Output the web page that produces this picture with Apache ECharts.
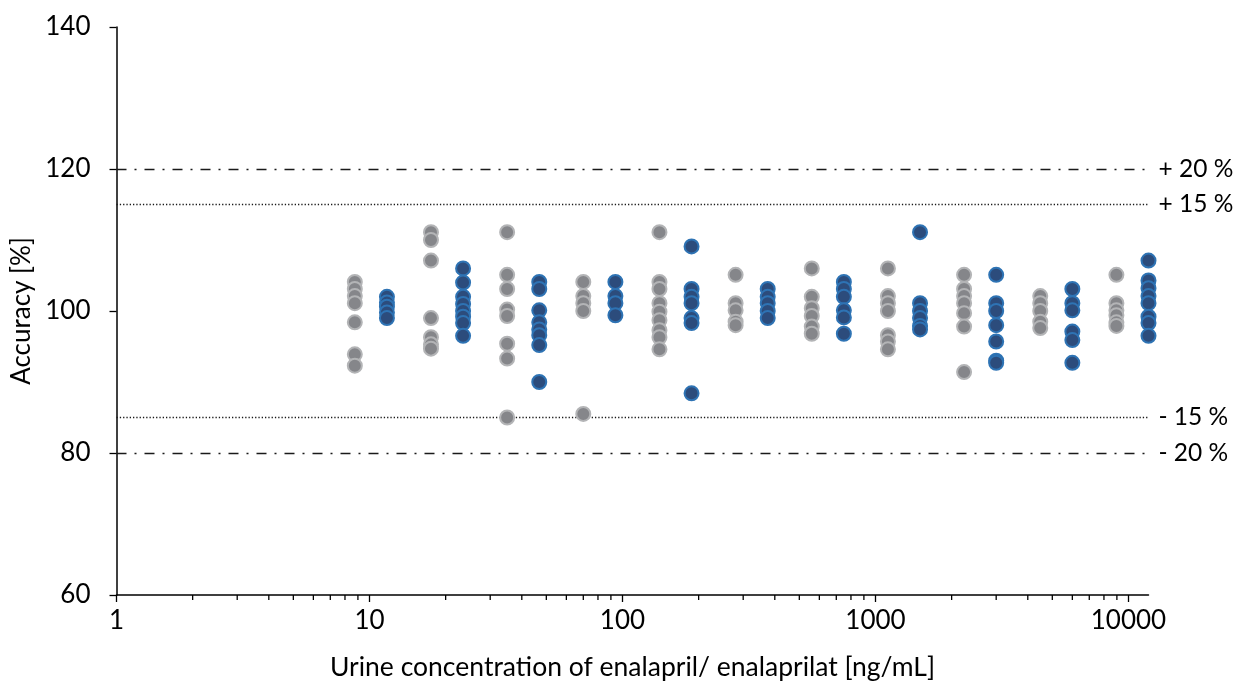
<!DOCTYPE html>
<html>
<head>
<meta charset="utf-8">
<script src="https://cdn.jsdelivr.net/npm/echarts@6/dist/echarts.min.js"></script>
<style>html,body{margin:0;padding:0;background:#fff}#chart{width:1237px;height:687px}</style>
</head>
<body>
<div id="chart"></div>
<script>
// Concentrations (ng/mL)
const enalaprilConc = [8.75, 17.5, 35, 70, 140, 280, 560, 1120, 2240, 4480, 8960];
const enalaprilatConc = [11.72, 23.44, 46.88, 93.75, 187.5, 375, 750, 1500, 3000, 6000, 12000];

// Accuracy values [%] per concentration level
const enalaprilAcc = [
  [104.1, 103.1, 102.1, 101.1, 98.4, 93.9, 92.3],
  [111.1, 110.0, 107.1, 99.0, 96.3, 95.3, 94.7],
  [111.1, 105.1, 103.1, 100.2, 99.3, 95.4, 93.3, 85.0],
  [104.1, 102.1, 101.1, 100.0, 85.5],
  [111.1, 104.1, 103.1, 101.1, 99.9, 98.7, 97.3, 96.3, 94.6],
  [105.1, 101.1, 100.1, 98.5, 98.0],
  [106.0, 102.0, 100.4, 99.3, 97.8, 96.8],
  [106.0, 102.1, 101.1, 100.0, 96.6, 95.7, 94.6],
  [105.1, 103.1, 102.1, 101.1, 99.7, 97.8, 91.4],
  [102.1, 101.1, 100.0, 98.5, 97.6],
  [105.1, 101.1, 100.1, 99.4, 98.4, 97.9]
];
const enalaprilatAcc = [
  [102.0, 101.2, 100.6, 99.8, 99.0],
  [106.0, 104.0, 102.0, 101.0, 100.0, 99.2, 98.3, 96.5],
  [104.1, 103.1, 100.1, 98.4, 97.4, 96.6, 95.2, 90.0],
  [104.1, 102.1, 101.1, 99.4],
  [109.1, 103.1, 102.0, 101.1, 99.0, 98.3, 88.4],
  [103.1, 102.0, 101.1, 100.0, 99.0],
  [104.1, 103.1, 102.0, 100.1, 99.1, 96.8],
  [111.1, 101.1, 100.0, 99.0, 97.9, 97.4],
  [105.1, 101.1, 100.0, 98.0, 95.7, 93.0, 92.7],
  [103.1, 101.1, 100.1, 97.1, 95.9, 92.7],
  [107.1, 104.3, 103.2, 102.1, 101.1, 99.2, 98.3, 96.5]
];

// Acceptance limits
const limitValues = [120, 115, 85, 80];
const limitLabels = ['+ 20 %', '+ 15 %', '- 15 %', '- 20 %'];

// Axis ticks
const yTicks = [60, 80, 100, 120, 140];
const minorTicks = [2,3,4,5,6,7,8,9,20,30,40,50,60,70,80,90,200,300,400,500,600,700,800,900,2000,3000,4000,5000,6000,7000,8000,9000];

function pairs(conc, acc) {
  const out = [];
  conc.forEach((c, i) => acc[i].forEach(a => out.push([c, a])));
  return out;
}

const FONT = 'Lato';
const chart = echarts.init(document.getElementById('chart'), null, {renderer: 'canvas'});

const dashDot = [10, 8, 2, 8];
const dotted = [1.3, 2];

chart.setOption({
  animation: false,
  textStyle: {fontFamily: FONT},
  grid: {left: 116.5, right: 88.5, top: 27, bottom: 92, containLabel: false, outerBoundsMode: 'none'},
  xAxis: {
    type: 'log',
    logBase: 10,
    min: 1,
    max: 12000,
    name: 'Urine concentration of enalapril/ enalaprilat [ng/mL]',
    nameLocation: 'middle',
    nameGap: 59,
    nameTextStyle: {fontSize: 26.5, color: '#000', fontFamily: FONT},
    axisLine: {lineStyle: {color: '#000', width: 1.5}},
    axisTick: {show: true, length: 7, lineStyle: {color: '#000', width: 1.3}},
    axisLabel: {
      fontSize: 26, color: '#000', margin: 13, fontFamily: FONT,
      showMaxLabel: false,
      formatter: v => String(Math.round(v))
    },
    splitLine: {show: false}
  },
  yAxis: {
    type: 'value',
    min: yTicks[0],
    max: yTicks[yTicks.length - 1],
    interval: 20,
    name: 'Accuracy [%]',
    nameLocation: 'middle',
    nameGap: 82,
    nameTextStyle: {fontSize: 26, color: '#000', fontFamily: FONT},
    axisLine: {show: true, lineStyle: {color: '#000', width: 1.5}},
    axisTick: {show: true, length: 7, lineStyle: {color: '#000', width: 1.3}},
    axisLabel: {fontSize: 26, color: '#000', margin: 26, fontFamily: FONT},
    splitLine: {show: false}
  },
  series: [
    {
      type: 'line',
      data: [],
      z: 1,
      silent: true,
      markLine: {
        silent: true,
        symbol: 'none',
        z: 1,
        data: limitValues.map((v, i) => ({
          yAxis: v,
          lineStyle: {
            color: '#1a1a1a',
            width: 1.4,
            type: (i === 0 || i === 3) ? dashDot : dotted
          },
          label: {
            show: true,
            position: 'end',
            distance: 10,
            formatter: limitLabels[i],
            fontSize: 24.5,
            color: '#000',
            fontFamily: FONT
          }
        }))
      }
    },
    {
      type: 'custom',
      silent: true,
      clip: false,
      z: 3,
      data: minorTicks.map(v => [v, yTicks[0]]),
      renderItem: function (params, api) {
        const p = api.coord([api.value(0), api.value(1)]);
        return {
          type: 'line',
          shape: {x1: p[0], y1: p[1], x2: p[0], y2: p[1] + 5},
          style: {stroke: '#000', lineWidth: 1.3}
        };
      }
    },
    {
      name: 'enalapril',
      type: 'scatter',
      z: 5,
      clip: false,
      symbol: 'circle',
      symbolSize: 14,
      itemStyle: {color: '#85868a', borderColor: '#b3b4b6', borderWidth: 2, opacity: 1},
      data: pairs(enalaprilConc, enalaprilAcc)
    },
    {
      name: 'enalaprilat',
      type: 'scatter',
      z: 6,
      clip: false,
      symbol: 'circle',
      symbolSize: 14,
      itemStyle: {color: '#2c4c7c', borderColor: '#2e73b4', borderWidth: 2, opacity: 1},
      data: pairs(enalaprilatConc, enalaprilatAcc)
    }
  ]
});
</script>
</body>
</html>
